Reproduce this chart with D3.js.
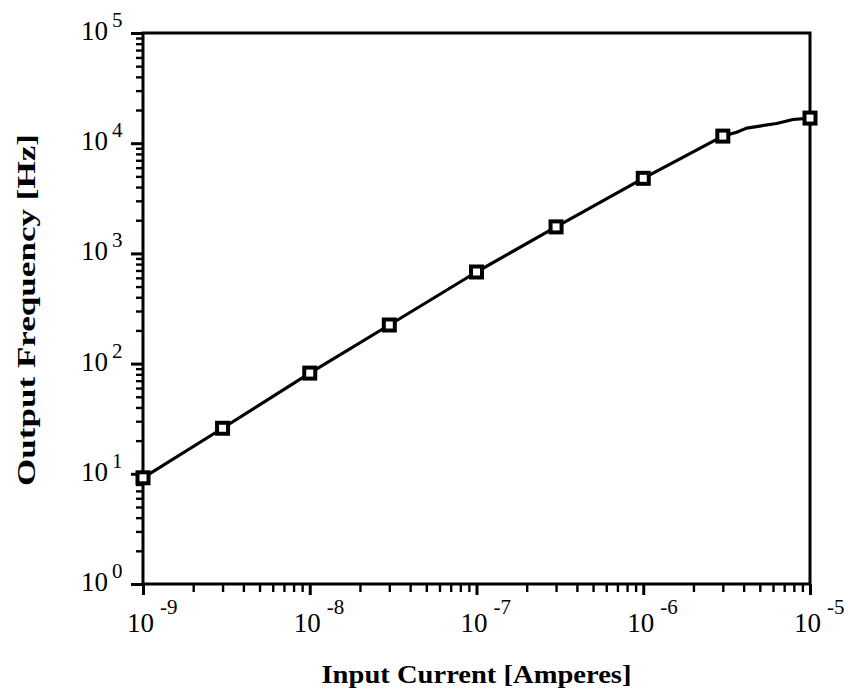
<!DOCTYPE html>
<html><head><meta charset="utf-8">
<script src="https://cdn.jsdelivr.net/npm/d3@7"></script>
<style>
html,body{margin:0;padding:0;background:#fff;}
svg{display:block;}
</style></head>
<body>
<script>
// Data
const currents = [1e-9, 3e-9, 1e-8, 3e-8, 1e-7, 3e-7, 1e-6, 3e-6, 1e-5];
const frequencies = [9.2, 25.9, 82, 224, 678, 1740, 4800, 11600, 16900];
// extra points of the drawn curve (line only) between the last two markers
const curveCurrents = [1e-9, 3e-9, 1e-8, 3e-8, 1e-7, 3e-7, 1e-6, 3e-6, 3.63e-6, 4.17e-6, 5.0e-6, 6.3e-6, 7.9e-6, 1e-5];
const curveFrequencies = [9.2, 25.9, 82, 224, 678, 1740, 4800, 11600, 12560, 13700, 14300, 15100, 16400, 16900];
const xExponents = [-9, -8, -7, -6, -5];
const yExponents = [0, 1, 2, 3, 4, 5];
const xTitle = "Input Current [Amperes]";
const yTitle = "Output Frequency [Hz]";

const W = 848, H = 691;
const L = 143, R = 810, T = 33, B = 584;
const svg = d3.select("body").append("svg").attr("width", W).attr("height", H);

const x = d3.scaleLog().domain([1e-9, 1e-5]).range([L, R]);
const y = d3.scaleLog().domain([1, 1e5]).range([B, T]);

function minorTicks(lo, hi) {
  const out = [];
  for (let e = lo; e < hi; e++) for (let m = 2; m <= 9; m++) out.push(m * Math.pow(10, e));
  return out;
}
const xMinor = minorTicks(-9, -5);
const yMinor = minorTicks(0, 5);
const xMajor = xExponents.map(e => Math.pow(10, e));
const yMajor = yExponents.map(e => Math.pow(10, e));

const serif = "'Liberation Serif','DejaVu Serif',serif";

// x axis ticks
const gx = svg.append("g").attr("transform", `translate(0,${B})`);
gx.call(d3.axisBottom(x).tickValues(xMinor).tickSize(8).tickFormat(""));
gx.call(g => g.select(".domain").remove());
gx.selectAll(".tick line").attr("stroke", "#000").attr("stroke-width", 2.4);
const gx2 = svg.append("g").attr("transform", `translate(0,${B})`);
gx2.call(d3.axisBottom(x).tickValues(xMajor).tickSize(11).tickFormat(""));
gx2.call(g => g.select(".domain").remove());
gx2.selectAll(".tick line").attr("stroke", "#000").attr("stroke-width", 3);

// y axis ticks
const gy = svg.append("g").attr("transform", `translate(${L},0)`);
gy.call(d3.axisLeft(y).tickValues(yMinor).tickSize(7).tickFormat(""));
gy.call(g => g.select(".domain").remove());
gy.selectAll(".tick line").attr("stroke", "#000").attr("stroke-width", 2.4);
const gy2 = svg.append("g").attr("transform", `translate(${L},0)`);
gy2.call(d3.axisLeft(y).tickValues(yMajor).tickSize(12).tickFormat(""));
gy2.call(g => g.select(".domain").remove());
gy2.selectAll(".tick line").attr("stroke", "#000").attr("stroke-width", 3);

// frame
svg.append("rect").attr("x", L).attr("y", T).attr("width", R - L).attr("height", B - T)
  .attr("fill", "none").attr("stroke", "#000").attr("stroke-width", 3);

// x tick labels
xExponents.forEach(e => {
  const px = x(Math.pow(10, e));
  svg.append("text").attr("font-family", serif).attr("fill", "#000")
    .attr("x", px + 11).attr("y", 632).attr("text-anchor", "end")
    .attr("font-size", 27).text("10");
  svg.append("text").attr("font-family", serif).attr("fill", "#000")
    .attr("x", px + 17).attr("y", 614).attr("font-size", 21).text(String(e));
});

// y tick labels
yExponents.forEach(e => {
  const py = y(Math.pow(10, e));
  svg.append("text").attr("font-family", serif).attr("fill", "#000")
    .attr("x", 108).attr("y", py + 7).attr("text-anchor", "end")
    .attr("font-size", 27).text("10");
  svg.append("text").attr("font-family", serif).attr("fill", "#000")
    .attr("x", 112).attr("y", py - 6).attr("font-size", 21).text(String(e));
});

// line
const line = d3.line().x((d, i) => x(curveCurrents[i])).y((d, i) => y(curveFrequencies[i]));
svg.append("path").datum(curveCurrents).attr("d", line)
  .attr("fill", "none").attr("stroke", "#000").attr("stroke-width", 3.2).attr("stroke-linejoin", "round");

// markers
svg.append("g").selectAll("rect").data(currents).join("rect")
  .attr("x", (d) => x(d) - 5.5).attr("y", (d, i) => y(frequencies[i]) - 5.5)
  .attr("width", 11).attr("height", 11)
  .attr("fill", "#fff").attr("stroke", "#000").attr("stroke-width", 4);

// titles
svg.append("text").attr("font-family", serif).attr("font-weight", "bold").attr("fill", "#000")
  .attr("x", (L + R) / 2).attr("y", 683).attr("text-anchor", "middle").attr("font-size", 26)
  .attr("textLength", 310).attr("lengthAdjust", "spacingAndGlyphs")
  .text(xTitle);
svg.append("text").attr("font-family", serif).attr("font-weight", "bold").attr("fill", "#000")
  .attr("transform", `translate(35,310) rotate(-90)`).attr("text-anchor", "middle")
  .attr("font-size", 26).attr("textLength", 352).attr("lengthAdjust", "spacingAndGlyphs")
  .text(yTitle);
</script>
</body></html>
